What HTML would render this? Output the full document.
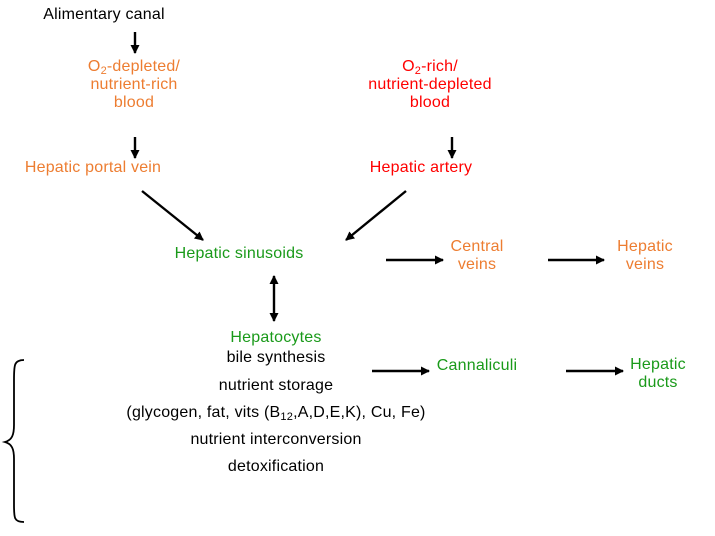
<!DOCTYPE html>
<html><head><meta charset="utf-8"><style>
body{margin:0;width:715px;height:536px;background:#fff;position:relative;overflow:hidden;font-family:"Liberation Sans",sans-serif;font-size:16px;}
.t{position:absolute;transform:translateX(-50%);text-align:center;white-space:nowrap;line-height:18px;letter-spacing:0.2px}
.o{color:#ED7D31}.r{color:#FF0000}.g{color:#1A9A1A}.k{color:#000}
sub{font-size:11px;line-height:0;vertical-align:-3px}
svg{position:absolute;left:0;top:0}
</style></head><body>
<svg width="715" height="536">
<defs><marker id="a" markerWidth="10" markerHeight="10" refX="8" refY="5" orient="auto" markerUnits="userSpaceOnUse"><path d="M0,0.5 L9,5 L0,9.5 z" fill="#000"/></marker>
<marker id="b" markerWidth="10" markerHeight="10" refX="1" refY="5" orient="auto" markerUnits="userSpaceOnUse"><path d="M9,0.5 L0,5 L9,9.5 z" fill="#000"/></marker></defs>
<g stroke="#000" stroke-width="2.4" fill="none">
<line x1="135" y1="32" x2="135" y2="53" marker-end="url(#a)"/>
<line x1="135" y1="137" x2="135" y2="158" marker-end="url(#a)"/>
<line x1="452" y1="137" x2="452" y2="158" marker-end="url(#a)"/>
<line x1="142" y1="191" x2="203" y2="240" marker-end="url(#a)"/>
<line x1="406" y1="191" x2="346" y2="240" marker-end="url(#a)"/>
<line x1="274" y1="276" x2="274" y2="321" marker-start="url(#b)" marker-end="url(#a)"/>
<line x1="386" y1="260" x2="443" y2="260" marker-end="url(#a)"/>
<line x1="548" y1="260" x2="604" y2="260" marker-end="url(#a)"/>
<line x1="372" y1="371" x2="429" y2="371" marker-end="url(#a)"/>
<line x1="566" y1="371" x2="623" y2="371" marker-end="url(#a)"/>
</g>
<path d="M24,360 C14,360 14,365 14,380 L14,425 C14,435 12,440 5,442 C12,444 14,449 14,459 L14,505 C14,518 14,522 24,522" stroke="#000" stroke-width="1.8" fill="none"/>
</svg>
<div class="t k" style="left:104px;top:6px">Alimentary canal</div>
<div class="t o" style="left:134px;top:58px">O<sub>2</sub>-depleted/<br>nutrient-rich<br>blood</div>
<div class="t o" style="left:93px;top:159px">Hepatic portal vein</div>
<div class="t r" style="left:430px;top:58px">O<sub>2</sub>-rich/<br>nutrient-depleted<br>blood</div>
<div class="t r" style="left:421px;top:159px">Hepatic artery</div>
<div class="t g" style="left:239px;top:245px">Hepatic sinusoids</div>
<div class="t o" style="left:477px;top:238px">Central<br>veins</div>
<div class="t o" style="left:645px;top:238px">Hepatic<br>veins</div>
<div class="t g" style="left:276px;top:329px">Hepatocytes</div>
<div class="t k" style="left:276px;top:349px">bile synthesis</div>
<div class="t k" style="left:276px;top:377px">nutrient storage</div>
<div class="t k" style="left:276px;top:404px">(glycogen, fat, vits (B<sub>12</sub>,A,D,E,K), Cu, Fe)</div>
<div class="t k" style="left:276px;top:431px">nutrient interconversion</div>
<div class="t k" style="left:276px;top:458px">detoxification</div>
<div class="t g" style="left:477px;top:357px">Cannaliculi</div>
<div class="t g" style="left:658px;top:356px">Hepatic<br>ducts</div>
</body></html>
